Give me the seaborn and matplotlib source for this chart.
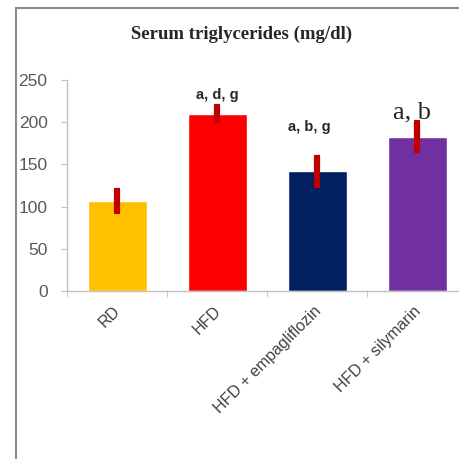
import matplotlib
matplotlib.use("Agg")
import matplotlib.pyplot as plt
import matplotlib.transforms as mtransforms
import seaborn as sns
import pandas as pd
from matplotlib.patches import Rectangle

groups = ["RD", "HFD", "HFD + empagliflozin", "HFD + silymarin"]
values = [107, 210, 142, 183]
errors = [13, 9, 17, 17]
labels = ["", "a, d, g", "a, b, g", "a, b"]
colors = ["#FFC000", "#FF0000", "#002060", "#7030A0"]

sns.set_style("white")
df = pd.DataFrame({"group": groups, "value": values})

fig = plt.figure(figsize=(4.59, 4.59), dpi=100)
ax = fig.add_axes([67/459, 1-291/459, 400/459, 211/459])
sns.barplot(data=df, x="group", y="value", hue="group", palette=colors,
            width=0.59, errorbar=None, legend=False, ax=ax, saturation=1)
ax.errorbar(range(len(groups)), values, yerr=errors, fmt="none",
            ecolor="#C00000", elinewidth=4.5, capsize=2.5, capthick=3)

ax.set_xlim(-0.5, 3.5)
ax.set_ylim(0, 250)
ax.set_yticks([0, 50, 100, 150, 200, 250])
ax.set_xlabel("")
ax.set_ylabel("")
for s in ["top", "right"]:
    ax.spines[s].set_visible(False)
for s in ["left", "bottom"]:
    ax.spines[s].set_color("#BFBFBF")
    ax.spines[s].set_linewidth(1)
ax.set_xticks([-0.5, 0.5, 1.5, 2.5], minor=True)
ax.set_xticks(range(len(groups)))
ax.tick_params(axis="x", which="major", length=0, pad=9)
ax.tick_params(axis="x", which="minor", length=4, color="#BFBFBF", direction="out", bottom=True)
ax.tick_params(axis="y", length=4, color="#BFBFBF", direction="out", left=True,
               labelsize=12.5, labelcolor="#595959", pad=10)
ax.set_xticklabels(groups, rotation=45, ha="right", rotation_mode="anchor",
                   fontsize=11.5, color="#404040", family="Liberation Sans")
offset = mtransforms.ScaledTranslation(-4/100, 0, fig.dpi_scale_trans)
for t in ax.get_xticklabels():
    t.set_transform(t.get_transform() + offset)
for t in ax.get_yticklabels():
    t.set_family("Liberation Sans")

# annotations
ax.text(1, 232, labels[1], ha="center", va="center", fontsize=10.5, fontweight="bold", family="Liberation Sans")
ax.text(1.92, 194, labels[2], ha="center", va="center", fontsize=10.5, fontweight="bold", family="Liberation Sans")
ax.text(2.95, 212, labels[3], ha="center", va="center", fontsize=19, family="Liberation Serif")

fig.text(242/459, 1-34/459, "Serum triglycerides (mg/dl)", ha="center", va="center",
         fontsize=13.5, fontweight="bold", family="Liberation Serif")

fig.patches.append(Rectangle((16/459, -0.05), 1.2, 1-8/459+0.05, transform=fig.transFigure,
                             fill=False, edgecolor="#8C8C8C", linewidth=1.5))

fig.savefig("out.png", dpi=100)
